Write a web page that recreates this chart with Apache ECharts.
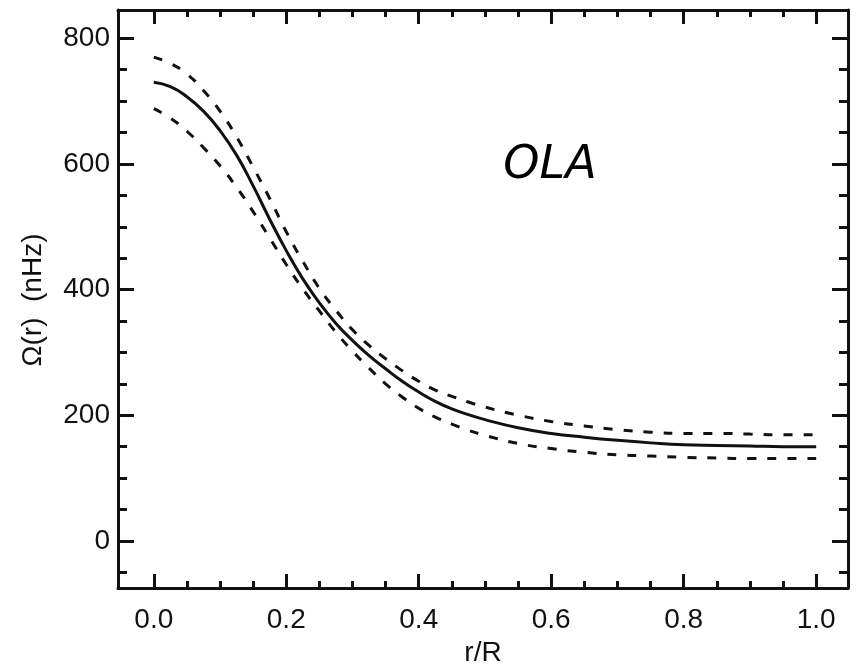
<!DOCTYPE html>
<html>
<head>
<meta charset="utf-8">
<script src="https://cdn.jsdelivr.net/npm/echarts@6/dist/echarts.min.js"></script>
<style>
html,body{margin:0;padding:0;background:#fff;}
#chart{width:858px;height:672px;}
</style>
</head>
<body>
<div id="chart"></div>
<script>
// ---- data ----
const rValues    = [0.000,0.025,0.050,0.075,0.100,0.125,0.150,0.175,0.200,0.225,0.250,0.275,0.300,0.325,0.350,0.375,0.400,0.425,0.450,0.475,0.50,0.55,0.60,0.65,0.70,0.75,0.80,0.85,0.90,0.95,1.00];
const omegaMid   = [730,723,707,684,653,614,565,512,462,417,379,346,319,295,274,254,237,222,210,201,193,180,171,165,160,156,153,152,151,150,150];
const omegaUpper = [770,760,743,717,684,643,595,545,492,445,402,367,336,311,290,271,254,240,230,221,213,200,190,183,177,173,171,171,170,169,169];
const omegaLower = [688,673,652,626,597,563,524,482,440,401,366,332,302,275,250,229,211,197,186,176,168,155,147,141,137,135,133,132,131,131,131];

const xMajorTicks = [0.0,0.2,0.4,0.6,0.8,1.0];
const xMinorTicks = [0.05,0.10,0.15,0.25,0.30,0.35,0.45,0.50,0.55,0.65,0.70,0.75,0.85,0.90,0.95];
const yMajorTicks = [0,200,400,600,800];
const yMinorTicks = [-50,50,100,150,250,300,350,450,500,550,650,700,750];

const xTitle = 'r/R';
const yTitle = 'Ω(r)  (nHz)';
const panelLabel = 'OLA';

const X_MIN = -0.054, X_MAX = 1.048;
const Y_MIN = -75, Y_MAX = 845;

const ink = '#111';
const tickFont = {color: ink, fontSize: 28, fontFamily: 'Liberation Sans, Arial, sans-serif'};

function xAx(position, ticks, len, showLine, showLabel) {
  return {
    type: 'value', position: position, min: X_MIN, max: X_MAX,
    splitLine: {show: false},
    axisLine: {show: showLine, onZero: false, lineStyle: {color: ink, width: 3}},
    axisTick: {show: true, inside: true, length: len, customValues: ticks, lineStyle: {color: ink, width: 3}},
    axisLabel: showLabel ? Object.assign({show: true, margin: 18, customValues: ticks,
      formatter: v => Number(v).toFixed(1)}, tickFont) : {show: false}
  };
}
function yAx(position, ticks, len, showLine, showLabel) {
  return {
    type: 'value', position: position, min: Y_MIN, max: Y_MAX,
    splitLine: {show: false},
    axisLine: {show: showLine, onZero: false, lineStyle: {color: ink, width: 3}},
    axisTick: {show: true, inside: true, length: len, customValues: ticks, lineStyle: {color: ink, width: 3}},
    axisLabel: showLabel ? Object.assign({show: true, margin: 8, customValues: ticks,
      formatter: v => String(Math.round(v))}, tickFont) : {show: false}
  };
}

const xMain = xAx('bottom', xMajorTicks, 14, true, true);
xMain.name = xTitle;
xMain.nameLocation = 'middle';
xMain.nameGap = 51;
xMain.nameTextStyle = {color: ink, fontSize: 28, fontFamily: 'Liberation Sans, Arial, sans-serif'};

const chart = echarts.init(document.getElementById('chart'), null, {renderer: 'canvas'});
chart.setOption({
  backgroundColor: '#fff',
  animation: false,
  grid: {left: 118, right: 10, top: 10, bottom: 84, containLabel: false, outerBoundsMode: 'none'},
  xAxis: [
    xMain,
    xAx('bottom', xMinorTicks, 7, false, false),
    xAx('top', xMajorTicks, 14, true, false),
    xAx('top', xMinorTicks, 7, false, false)
  ],
  yAxis: [
    yAx('left', yMajorTicks, 16, true, true),
    yAx('left', yMinorTicks, 9, false, false),
    yAx('right', yMajorTicks, 16, true, false),
    yAx('right', yMinorTicks, 9, false, false)
  ],
  series: [
    {type: 'line', name: 'upper', xAxisIndex: 0, yAxisIndex: 0, smooth: 0.5, symbol: 'none',
     data: rValues.map((r, i) => [r, omegaUpper[i]]),
     lineStyle: {color: ink, width: 3, type: [9, 11]}},
    {type: 'line', name: 'mid', xAxisIndex: 0, yAxisIndex: 0, smooth: 0.5, symbol: 'none',
     data: rValues.map((r, i) => [r, omegaMid[i]]),
     lineStyle: {color: ink, width: 3, type: 'solid'}},
    {type: 'line', name: 'lower', xAxisIndex: 0, yAxisIndex: 0, smooth: 0.5, symbol: 'none',
     data: rValues.map((r, i) => [r, omegaLower[i]]),
     lineStyle: {color: ink, width: 3, type: [9, 11]}}
  ],
  graphic: [
    {type: 'text', x: 33, y: 300, rotation: Math.PI / 2,
     style: {text: yTitle, fill: ink, align: 'center', verticalAlign: 'middle',
             font: '28px "Liberation Sans", Arial, sans-serif'}},
    {type: 'text', x: 550, y: 166,
     style: {text: panelLabel, fill: '#000', align: 'center', verticalAlign: 'middle',
             font: 'italic 46px "DejaVu Sans", sans-serif'}}
  ]
});
</script>
</body>
</html>
